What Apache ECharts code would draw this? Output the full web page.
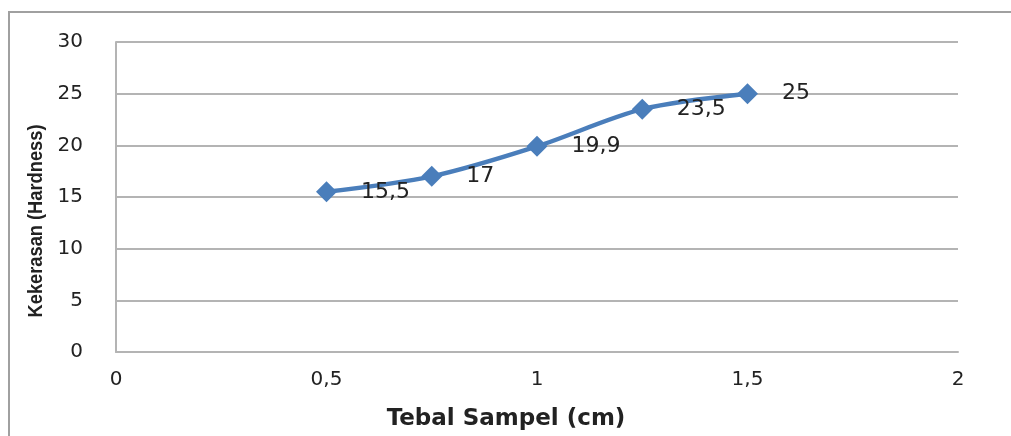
<!DOCTYPE html>
<html>
<head>
<meta charset="utf-8">
<script src="https://cdn.jsdelivr.net/npm/echarts@6/dist/echarts.min.js"></script>
<style>
  html, body { margin: 0; padding: 0; background: #fff; }
  #chart { width: 1011px; height: 436px; }
</style>
</head>
<body>
<div id="chart"></div>
<script>
// Sample thickness (cm) and measured hardness
const thickness = [0.5, 0.75, 1, 1.25, 1.5];
const hardness = [15.5, 17, 19.9, 23.5, 25];
const xTitle = 'Tebal Sampel (cm)';
const yTitle = 'Kekerasan (Hardness)';

const commaNum = v => String(v).replace('.', ',');

const chart = echarts.init(document.getElementById('chart'));
chart.setOption({
  animation: false,
  graphic: [{
    type: 'rect',
    shape: { x: 9, y: 12, width: 1100, height: 500 },
    style: { fill: 'none', stroke: '#a0a0a0', lineWidth: 2 },
    silent: true
  }, {
    // condensed, rotated vertical axis title
    type: 'text',
    x: 36, y: 221,
    rotation: Math.PI / 2,
    scaleX: 0.87,
    style: {
      text: yTitle,
      font: 'bold 21px "Liberation Sans", Arial, sans-serif',
      fill: '#222',
      align: 'center',
      verticalAlign: 'middle'
    },
    silent: true
  }],
  grid: { left: 116, right: 53, top: 42, bottom: 83 },
  xAxis: {
    type: 'value', min: 0, max: 2, interval: 0.5,
    name: xTitle, nameLocation: 'middle', nameGap: 56,
    nameTextStyle: { fontFamily: 'DejaVu Sans', fontWeight: 'bold', fontSize: 23, color: '#222', padding: [0, 62, 0, 0] },
    axisLine: { show: true, lineStyle: { color: '#b4b4b4', width: 2 } },
    axisTick: { show: false },
    splitLine: { show: false },
    axisLabel: { fontFamily: 'DejaVu Sans', fontSize: 20, color: '#222', margin: 18, formatter: commaNum }
  },
  yAxis: {
    type: 'value', min: 0, max: 30, interval: 5,
    axisLine: { show: true, lineStyle: { color: '#b4b4b4', width: 2 } },
    axisTick: { show: false },
    splitLine: { show: true, lineStyle: { color: '#b4b4b4', width: 2 } },
    axisLabel: { fontFamily: 'DejaVu Sans', fontSize: 20, color: '#222', margin: 33 }
  },
  series: [{
    type: 'line',
    data: thickness.map((x, i) => [x, hardness[i]]),
    smooth: 0.3,
    symbol: 'diamond',
    symbolSize: 21,
    lineStyle: { color: '#4a7ebb', width: 4.5 },
    itemStyle: { color: '#4a7ebb' },
    label: {
      show: true, position: 'right', distance: 24,
      fontFamily: 'DejaVu Sans', fontSize: 22, color: '#222',
      formatter: p => commaNum(p.value[1])
    }
  }]
});
</script>
</body>
</html>
